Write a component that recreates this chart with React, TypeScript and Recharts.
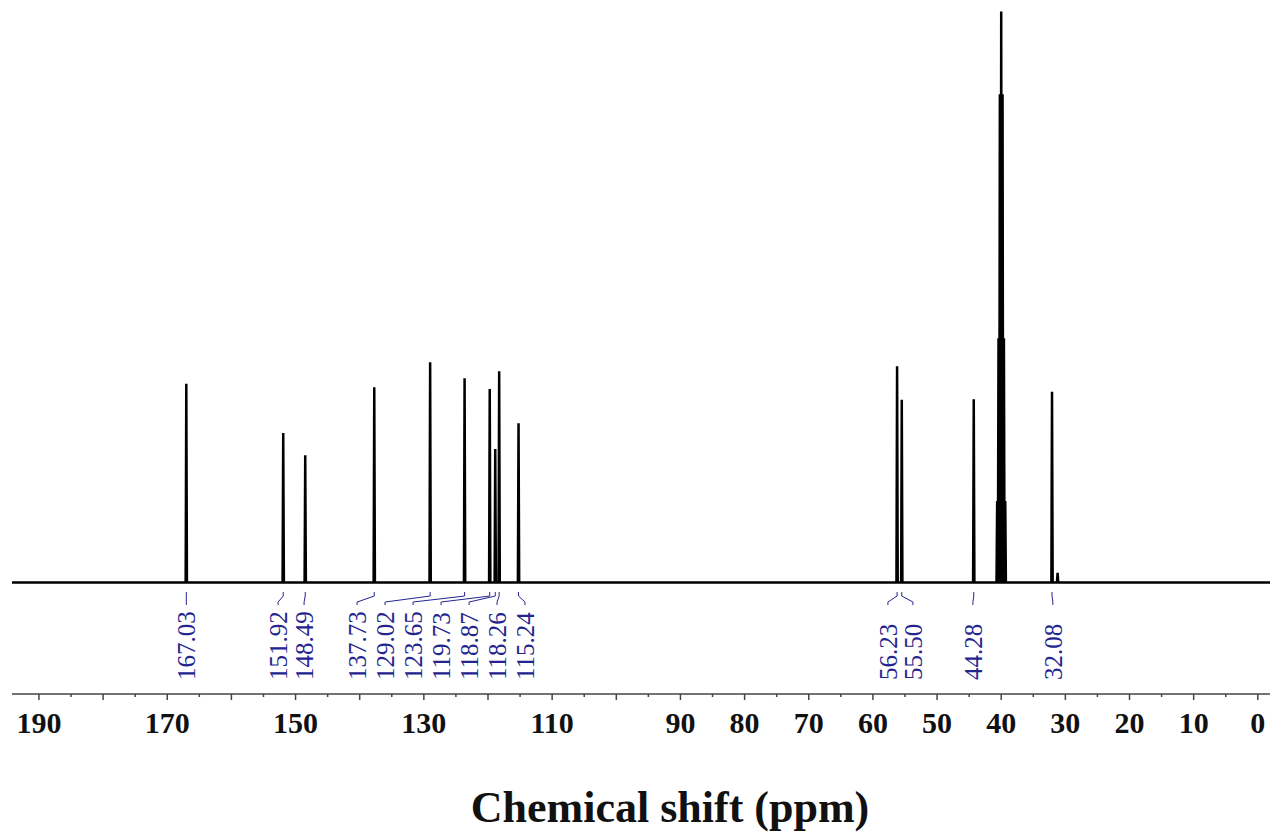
import { ComposedChart, Line, Scatter, XAxis, YAxis } from "recharts";

// 13C NMR peaks (ppm) with relative heights (solvent maximum = 100)
const peakShifts = [167.03, 151.92, 148.49, 137.73, 129.02, 123.65, 119.73, 118.87, 118.26, 115.24, 56.23, 55.5, 44.28, 32.08];
const peakHeights = [34.8, 26.2, 22.3, 34.2, 38.6, 35.8, 33.9, 23.4, 37.0, 27.9, 37.9, 32.0, 32.1, 33.4];
// where each rotated label sits on the ppm axis
const labelShifts = [167.03, 152.72, 148.67, 140.41, 136.05, 131.68, 127.32, 122.95, 118.59, 114.23, 57.66, 53.76, 44.41, 31.95];

// DMSO-d6 septet and a small unlabelled signal
const solventShifts = [40.63, 40.42, 40.21, 40.0, 39.79, 39.58, 39.37];
const solventHeights = [14.3, 42.8, 85.5, 100, 85.5, 42.8, 14.3];
const minorShifts = [31.21];
const minorHeights = [1.7];

const axisTicks = [190, 185, 180, 175, 170, 165, 160, 155, 150, 145, 140, 135, 130, 125, 120, 115, 110, 105, 100, 95, 90, 85, 80, 75, 70, 65, 60, 55, 50, 45, 40, 35, 30, 25, 20, 15, 10, 5, 0];
const tickLabels = [190, 170, 150, 130, 110, 90, 80, 70, 60, 50, 40, 30, 20, 10, 0];

const X_MIN = -1.9;
const X_MAX = 194.2;
const HALF_WIDTH = 0.1;
const SERIF = "'Liberation Serif', 'Times New Roman', serif";
const NAVY = "#24248f";

// connector levels below the baseline (y units)
const CONN_TOP = -1.65;
const CONN_BEND = -2.35;
const CONN_LOW = -3.4;
const CONN_END = -3.92;
const LABEL_Y = -17.05;

const allPeaks = [
  ...peakShifts.map((x, i) => ({ x, h: peakHeights[i] })),
  ...solventShifts.map((x, i) => ({ x, h: solventHeights[i] })),
  ...minorShifts.map((x, i) => ({ x, h: minorHeights[i] })),
].sort((a, b) => b.x - a.x);

const spectrum = [
  { x: X_MAX, y: 0 },
  ...allPeaks.flatMap((p) => [
    { x: p.x + HALF_WIDTH, y: 0 },
    { x: p.x, y: p.h },
    { x: p.x - HALF_WIDTH, y: 0 },
  ]),
  { x: X_MIN, y: 0 },
];

const connectors = peakShifts.flatMap((p, i) => [
  { x: p, y: CONN_TOP },
  { x: p, y: CONN_BEND },
  { x: labelShifts[i], y: CONN_LOW },
  { x: labelShifts[i], y: CONN_END },
  { x: labelShifts[i], y: null },
]);

const labels = peakShifts.map((p, i) => ({ x: labelShifts[i], y: LABEL_Y, text: p.toFixed(2) }));

function AxisTick(props: any) {
  const { x, y, payload } = props;
  const v = payload.value;
  const major = v % 10 === 0;
  return (
    <g>
      <line x1={x} x2={x} y1={y} y2={y + (major ? 6 : 3)} stroke="#444" strokeWidth={1.5} />
      {tickLabels.includes(v) && (
        <text x={x} y={y + 39} textAnchor="middle" fontFamily={SERIF} fontWeight="bold" fontSize={30} fill="#111">
          {v}
        </text>
      )}
    </g>
  );
}

function PeakLabel(props: any) {
  const { cx, cy, payload } = props;
  return (
    <text
      x={cx}
      y={cy}
      dy="0.35em"
      transform={`rotate(-90 ${cx} ${cy})`}
      fontFamily={SERIF}
      fontSize={25}
      fill={NAVY}
    >
      {payload.text}
    </text>
  );
}

function AxisTitle(props: any) {
  const vb = props.viewBox;
  return (
    <text
      x={vb.x + vb.width / 2 + 29}
      y={vb.y + vb.height - 12}
      textAnchor="middle"
      fontFamily={SERIF}
      fontWeight="bold"
      fontSize={44}
      fill="#111"
    >
      Chemical shift (ppm)
    </text>
  );
}

export default function App() {
  return (
    <div style={{ position: "absolute", left: 0, top: 0, width: 1270, height: 834, background: "#fff" }}>
      <ComposedChart width={1270} height={834} margin={{ top: 0, right: 0, left: 12, bottom: 0 }}>
        <XAxis
          type="number"
          dataKey="x"
          domain={[X_MIN, X_MAX]}
          reversed
          allowDataOverflow
          ticks={axisTicks}
          interval={0}
          tickSize={0}
          tickMargin={0}
          tickLine={false}
          tick={<AxisTick />}
          axisLine={{ stroke: "#444", strokeWidth: 1.5 }}
          height={140}
          label={AxisTitle}
        />
        <YAxis type="number" hide domain={[-19.5, 102]} allowDataOverflow />
        <Line
          data={spectrum}
          dataKey="y"
          type="linear"
          stroke="#000"
          strokeWidth={2.5}
          dot={false}
          activeDot={false}
          isAnimationActive={false}
        />
        <Line
          data={connectors}
          dataKey="y"
          type="linear"
          stroke={NAVY}
          strokeWidth={1}
          dot={false}
          activeDot={false}
          connectNulls={false}
          isAnimationActive={false}
        />
        <Scatter data={labels} dataKey="y" shape={PeakLabel} isAnimationActive={false} />
      </ComposedChart>
    </div>
  );
}
